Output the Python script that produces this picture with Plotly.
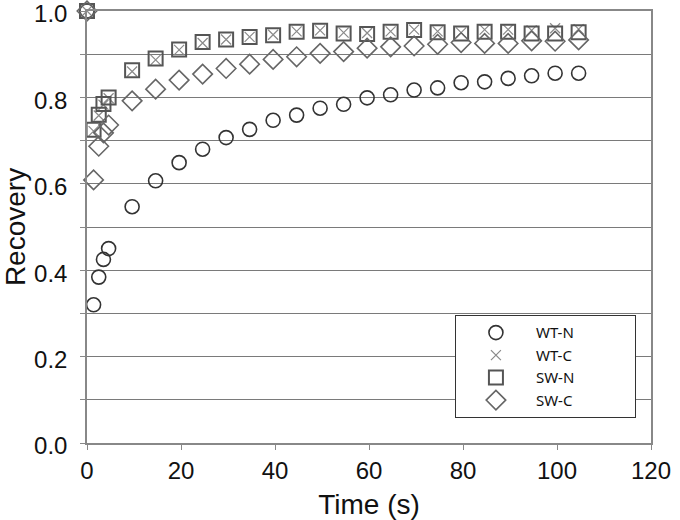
import plotly.graph_objects as go

time_s = [0, 1.4, 2.5, 3.5, 4.6, 9.6, 14.6, 19.6, 24.6, 29.6, 34.6, 39.6, 44.6,
          49.6, 54.6, 59.6, 64.6, 69.6, 74.6, 79.6, 84.6, 89.6, 94.6, 99.6, 104.6]

wt_n = [1.0, 0.320, 0.384, 0.425, 0.450, 0.547, 0.607, 0.649, 0.680, 0.707, 0.726,
        0.747, 0.759, 0.775, 0.784, 0.799, 0.806, 0.817, 0.822, 0.834, 0.836,
        0.844, 0.850, 0.856, 0.856]

wt_c = [1.0, 0.722, 0.758, 0.783, 0.798, 0.860, 0.887, 0.910, 0.926, 0.934, 0.940,
        0.945, 0.953, 0.955, 0.950, 0.949, 0.953, 0.957, 0.953, 0.950, 0.957,
        0.957, 0.955, 0.960, 0.958]

sw_n = [1.0, 0.725, 0.760, 0.785, 0.800, 0.863, 0.890, 0.911, 0.928, 0.934, 0.940,
        0.944, 0.952, 0.954, 0.948, 0.947, 0.952, 0.956, 0.951, 0.948, 0.952,
        0.952, 0.948, 0.948, 0.951]

sw_c = [1.0, 0.609, 0.687, 0.718, 0.736, 0.792, 0.819, 0.840, 0.854, 0.867, 0.877,
        0.888, 0.894, 0.902, 0.906, 0.914, 0.917, 0.919, 0.923, 0.927, 0.925,
        0.925, 0.931, 0.930, 0.933]

series_names = ["WT-N", "WT-C", "SW-N", "SW-C"]
series_values = [wt_n, wt_c, sw_n, sw_c]
styles = [
    ("circle-open", "#333333", 14, 1.6),
    ("x-thin-open", "#8a8a8a", 10, 1.2),
    ("square-open", "#555555", 14, 2.0),
    ("diamond-open", "#666666", 15, 1.6),
]

PAD = "\u00a0" * 14  # widen legend box like the reference

fig = go.Figure()
for name, vals, (sym, col, size, lw) in zip(series_names, series_values, styles):
    fig.add_trace(go.Scatter(
        x=time_s, y=vals, mode="markers", name=name + PAD, cliponaxis=False,
        marker=dict(symbol=sym, size=size, color=col, line=dict(width=lw, color=col)),
    ))

font_main = "Liberation Sans, Arial, sans-serif"

fig.update_layout(
    width=680, height=520,
    margin=dict(l=87, r=29, t=11, b=77),
    plot_bgcolor="white", paper_bgcolor="white",
    font=dict(family=font_main, color="#111111", size=20),
    showlegend=True,
    legend=dict(
        x=0.652, y=0.296, xanchor="left", yanchor="top",
        bgcolor="white", bordercolor="#333333", borderwidth=1.2,
        font=dict(family="Noto Sans, Open Sans, sans-serif", size=15, color="#111111"),
        itemwidth=70, tracegroupgap=0,
    ),
    xaxis=dict(
        range=[0, 120], dtick=20, tick0=0, automargin=False,
        showgrid=False, zeroline=False,
        showline=True, linecolor="#888888", linewidth=1.5, mirror=True,
        ticks="outside", ticklen=5, tickcolor="#888888",
        tickfont=dict(size=24), ticklabelstandoff=0,
        title=dict(text="Time (s)", font=dict(size=28), standoff=12),
    ),
    yaxis=dict(
        range=[0, 1.0], dtick=0.2, tick0=0, tickformat=".1f", automargin=False,
        showgrid=True, gridcolor="#7a7a7a", gridwidth=1.2,
        minor=dict(dtick=0.1, showgrid=True, gridcolor="#7a7a7a", gridwidth=1.2,
                   ticks="outside", ticklen=5, tickcolor="#888888"),
        zeroline=False, ticklabeloverflow="allow",
        showline=True, linecolor="#888888", linewidth=1.5, mirror=True,
        ticks="outside", ticklen=5, tickcolor="#888888",
        tickfont=dict(size=24), ticklabelstandoff=8, ticklabelshift=3,
        title=dict(text="Recovery", font=dict(size=28), standoff=12),
    ),
)

fig.write_html("out.html", post_script="document.body.style.margin='0';",
               config={"displayModeBar": False})
